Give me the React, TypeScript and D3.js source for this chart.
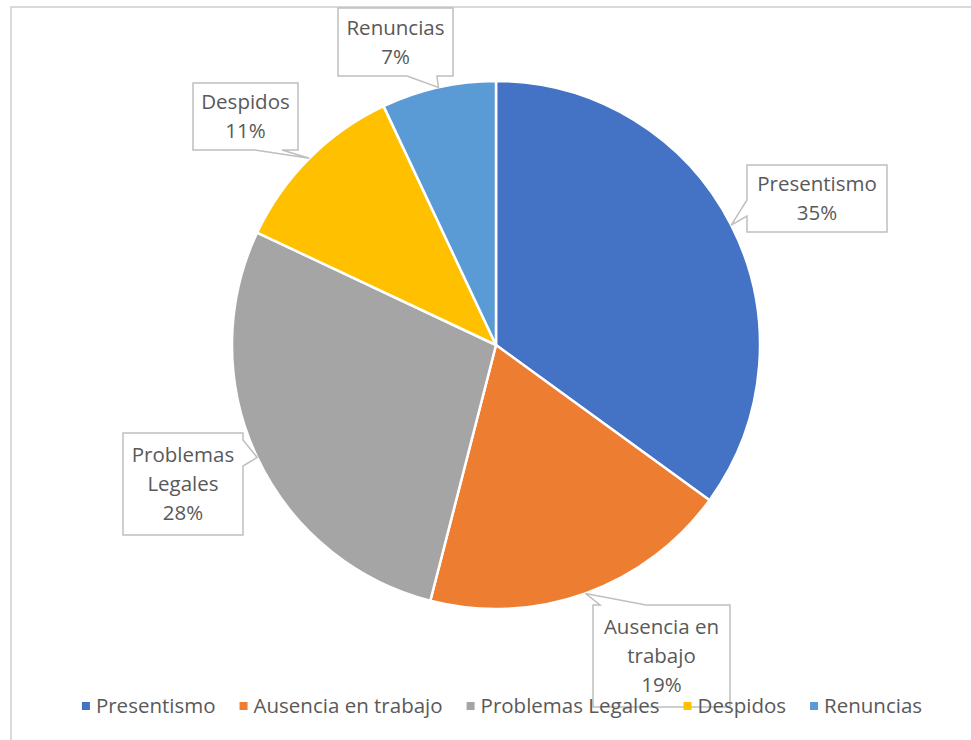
import React, { useEffect, useRef } from "react";
import * as d3 from "d3";

const categories = ["Presentismo", "Ausencia en trabajo", "Problemas Legales", "Despidos", "Renuncias"];
const values = [35, 19, 28, 11, 7];
const labelLines = [["Presentismo"], ["Ausencia en", "trabajo"], ["Problemas", "Legales"], ["Despidos"], ["Renuncias"]];
const colors = ["#4472C4", "#ED7D31", "#A5A5A5", "#FFC000", "#5B9BD5"];

// callout box layout: x, y, w, h, side of pointer, base start/end along that side
const callouts = [
  { x: 747, y: 165, w: 140, h: 67, side: "left", b0: 200, b1: 216 },
  { x: 593, y: 605, w: 137, h: 102, side: "top", b0: 600, b1: 646 },
  { x: 123, y: 433, w: 120, h: 102, side: "right", b0: 440, b1: 466 },
  { x: 193, y: 83, w: 105, h: 67, side: "bottom", b0: 255, b1: 282 },
  { x: 338, y: 8, w: 115, h: 68, side: "bottom", b0: 407, b1: 437 },
];

const W = 971, H = 740;
const CX = 496, CY = 345, R = 264;
const FONT = "'Open Sans', sans-serif";
const FS = 20.5;
const TEXT = "#595959";

function calloutPath(c: any, tip: [number, number]) {
  const { x, y, w, h, side, b0, b1 } = c;
  const pts: [number, number][] = [];
  pts.push([x, y]);
  if (side === "top") { pts.push([b0, y], tip, [b1, y]); }
  pts.push([x + w, y]);
  if (side === "right") { pts.push([x + w, b0], tip, [x + w, b1]); }
  pts.push([x + w, y + h]);
  if (side === "bottom") { pts.push([b1, y + h], tip, [b0, y + h]); }
  pts.push([x, y + h]);
  if (side === "left") { pts.push([x, b1], tip, [x, b0]); }
  return "M" + pts.map((p) => p.join(",")).join("L") + "Z";
}

export default function App() {
  const ref = useRef<SVGSVGElement>(null);
  useEffect(() => {
    const svg = d3.select(ref.current);
    svg.selectAll("*").remove();
    svg.append("rect").attr("width", W).attr("height", H).attr("fill", "#fff");
    svg.append("rect").attr("x", 11).attr("y", 7).attr("width", W + 20).attr("height", H + 20)
      .attr("fill", "none").attr("stroke", "#d9d9d9").attr("stroke-width", 2);

    const pie = d3.pie<number>().sort(null).value((d) => d);
    const arcs = pie(values);
    const arc = d3.arc<any>().innerRadius(0).outerRadius(R);
    const g = svg.append("g").attr("transform", `translate(${CX},${CY})`);
    g.selectAll("path").data(arcs).join("path")
      .attr("d", arc as any)
      .attr("fill", (_d, i) => colors[i])
      .attr("stroke", "#fff").attr("stroke-width", 2.5).attr("stroke-linejoin", "round");

    // callouts
    const total = d3.sum(values);
    arcs.forEach((a, i) => {
      const mid = (a.startAngle + a.endAngle) / 2;
      const tip: [number, number] = [CX + R * Math.sin(mid), CY - R * Math.cos(mid)];
      const c = callouts[i];
      svg.append("path").attr("d", calloutPath(c, tip))
        .attr("fill", "#fff").attr("stroke", "#bfbfbf").attr("stroke-width", 1.5);
      const lines = [...labelLines[i], `${Math.round((values[i] / total) * 100)}%`];
      const lh = 29;
      const cy = c.y + c.h / 2;
      lines.forEach((t, k) => {
        svg.append("text").attr("x", c.x + c.w / 2)
          .attr("y", cy + (k - (lines.length - 1) / 2) * lh)
          .attr("dy", "0.35em").attr("text-anchor", "middle")
          .attr("font-family", FONT).attr("font-size", FS).attr("fill", TEXT)
          .text(t);
      });
    });

    // legend
    const lg = svg.append("g");
    const items = categories.map((name, i) => {
      const t = lg.append("text").attr("y", 706).attr("dy", "0.35em")
        .attr("font-family", FONT).attr("font-size", FS).attr("fill", TEXT).text(name);
      const w = (t.node() as SVGTextElement).getComputedTextLength();
      return { t, w, i };
    });
    const sq = 8, gap1 = 6, gap2 = 24;
    const totalW = d3.sum(items, (d) => sq + gap1 + d.w) + gap2 * (items.length - 1);
    let x = 502 - totalW / 2;
    items.forEach((it) => {
      lg.append("rect").attr("x", x).attr("y", 706 - sq / 2).attr("width", sq).attr("height", sq)
        .attr("fill", colors[it.i]);
      it.t.attr("x", x + sq + gap1);
      x += sq + gap1 + it.w + gap2;
    });
  }, []);
  return (
    <svg ref={ref} width={W} height={H}
      style={{ position: "absolute", left: 0, top: 0, display: "block" }} />
  );
}
